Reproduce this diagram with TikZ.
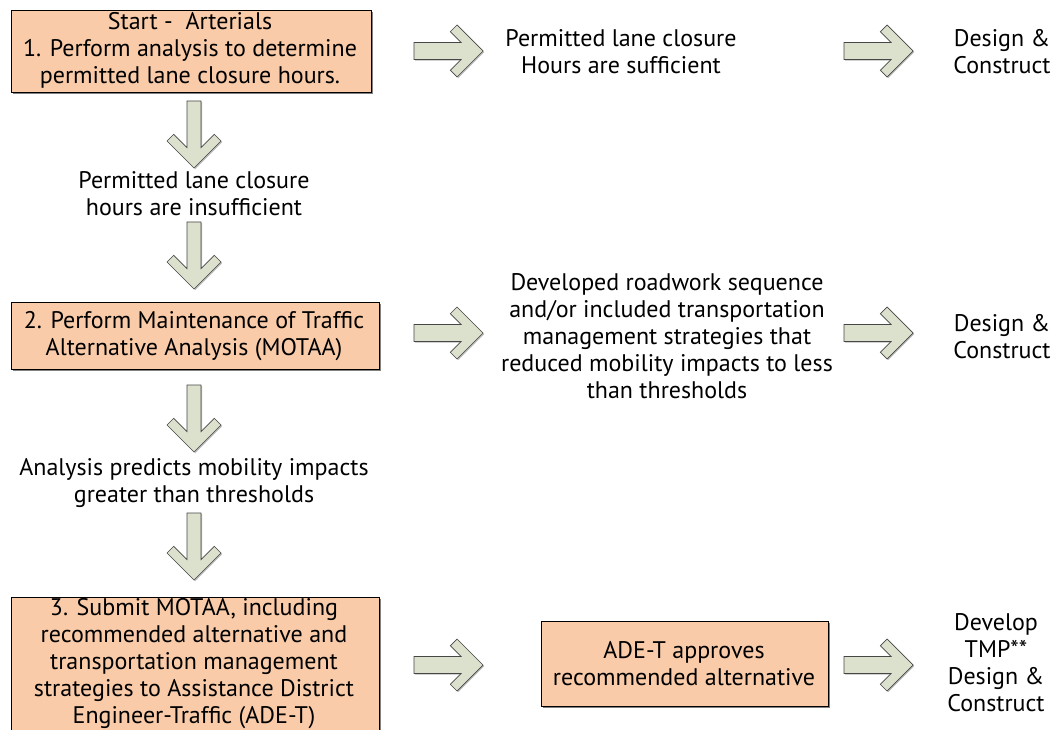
\documentclass[tikz,border=0pt]{standalone}
\usepackage{fontspec}
\setmainfont{PT Sans}
\usetikzlibrary{shadows}
\definecolor{peach}{RGB}{249,203,168}
\definecolor{sage}{RGB}{220,225,205}
\definecolor{edgegray}{RGB}{70,70,70}
\tikzset{
  txt/.style={font=\fontsize{24}{27}\selectfont, align=center, inner sep=0pt, text=black},
  stepbox/.style={draw=black, line width=0.9pt, fill=peach,
    drop shadow={shadow xshift=1.6pt, shadow yshift=-1.6pt, opacity=0.7, fill=black!70}},
  blockarrow/.style={draw=edgegray, line width=0.7pt, fill=sage,
    drop shadow={shadow xshift=1.2pt, shadow yshift=-1.2pt, opacity=0.45, fill=black!60}},
  % block arrow pointing right, tail centre at the pic origin
  rblock/.pic={
    \path[blockarrow] (0,-8.5) -- (47.1,-8.5) -- (36.3,-19.3) -- (43,-26) -- (69,0)
      -- (43,26) -- (36.3,19.3) -- (47.1,8.5) -- (0,8.5) -- cycle;
  },
  % block arrow pointing down, tail centre at the pic origin
  dblock/.pic={
    \path[blockarrow] (-7,0) -- (-7,46.6) -- (-20.3,33.3) -- (-27,40) -- (0,67)
      -- (27,40) -- (20.3,33.3) -- (7,46.6) -- (7,0) -- cycle;
  }
}
\begin{document}
\begin{tikzpicture}[x=1pt,y=-1pt]
\useasboundingbox (0,0) rectangle (1053,730);
\fill[white] (0,0) rectangle (1053,730);

% step boxes
\node[stepbox, minimum width=360pt, minimum height=82pt] (box1) at (191,51) {};
\node[txt] (t1) at (190,50.5) {Start -\ \ Arterials\\1. Perform analysis to determine\\permitted lane closure hours.};

\node[stepbox, minimum width=368pt, minimum height=67pt] (box2) at (195,335.5) {};
\node[txt] (t2) at (194,336.5) {2. Perform Maintenance of Traffic\\Alternative Analysis (MOTAA)};

\node[stepbox, minimum width=368pt, minimum height=150pt] (box3) at (195,672) {};
\node[txt] (t3) at (194,664) {3. Submit MOTAA, including\\recommended alternative and\\transportation management\\strategies to Assistance District\\Engineer-Traffic (ADE-T)};

\node[stepbox, minimum width=287pt, minimum height=85pt] (box4) at (684.5,663.5) {};
\node[txt] (t4) at (684,664) {ADE-T approves\\recommended alternative};

% outcome texts
\node[txt] (ok1) at (621,51.5) {Permitted lane closure\\Hours are sufficient};
\node[txt] (dc1) at (1002,51.5) {Design \&\\Construct};
\node[txt] (no1) at (194,194) {Permitted lane closure\\hours are insufficient};
\node[txt] (ok2) at (667,336.5) {Developed roadwork sequence\\and/or included transportation\\management strategies that\\reduced mobility impacts to less\\than thresholds};
\node[txt] (dc2) at (1002,336.5) {Design \&\\Construct};
\node[txt] (no2) at (194,483.5) {Analysis predicts mobility impacts\\greater than thresholds};
\node[txt] (dc3) at (996,663) {Develop\\TMP**\\Design \&\\Construct};

% block arrows
\pic at (414,51) {rblock};
\pic at (844,51) {rblock};
\pic at (414,333) {rblock};
\pic at (844,333) {rblock};
\pic at (414,665) {rblock};
\pic at (844,665) {rblock};

\pic at (194,101) {dblock};
\pic at (194,222) {dblock};
\pic at (194,385) {dblock};
\pic at (194,513) {dblock};
\end{tikzpicture}
\end{document}
